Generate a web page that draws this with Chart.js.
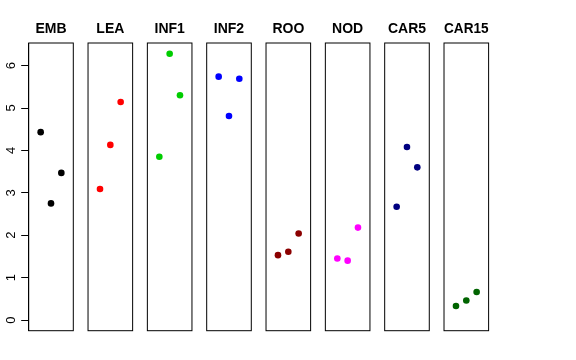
<!DOCTYPE html>
<html>
<head>
<meta charset="utf-8">
<script src="https://cdn.jsdelivr.net/npm/chart.js@4/dist/chart.umd.min.js"></script>
<style>
  html, body { margin: 0; padding: 0; background: #fff; }
  #wrap { position: relative; width: 576px; height: 360px; }
  #wrap canvas { position: absolute; left: 0; top: 0; }
</style>
</head>
<body>
<div id="wrap"></div>
<script>
// ---- data ----
const categories = ["EMB", "LEA", "INF1", "INF2", "ROO", "NOD", "CAR5", "CAR15"];
const xPositions = [1, 2, 3];
const EMB   = [4.43, 2.75, 3.47];
const LEA   = [3.09, 4.13, 5.14];
const INF1  = [3.85, 6.28, 5.30];
const INF2  = [5.74, 4.81, 5.69];
const ROO   = [1.53, 1.61, 2.04];
const NOD   = [1.45, 1.40, 2.18];
const CAR5  = [2.67, 4.08, 3.60];
const CAR15 = [0.33, 0.46, 0.66];
const seriesValues = [EMB, LEA, INF1, INF2, ROO, NOD, CAR5, CAR15];
const yTicks = [0, 1, 2, 3, 4, 5, 6];
const colors = ["#000000", "#FF0000", "#00CD00", "#0000FF", "#8B0000", "#FF00FF", "#000080", "#006400"];

// ---- layout ----
const W = 576, H = 360;
const panelLeft0 = 28.7, panelWidth = 44.6, panelPitch = 59.33;
const plotTop = 43, plotBottom = 330.7;
const xMin = -0.16, xMax = 4.16;
const yMin = -0.252, yMax = 6.533;

Chart.defaults.font.family = "'Liberation Sans', Arial, Helvetica, sans-serif";
Chart.defaults.color = "#000";

const boxPlugin = {
  id: 'box',
  afterDraw(chart) {
    const a = chart.chartArea, ctx = chart.ctx;
    ctx.save();
    ctx.strokeStyle = '#000';
    ctx.lineWidth = 1;
    ctx.strokeRect(a.left, a.top, a.right - a.left, a.bottom - a.top);
    ctx.restore();
  }
};

const wrap = document.getElementById('wrap');
categories.forEach((cat, i) => {
  const cv = document.createElement('canvas');
  cv.width = W; cv.height = H;
  cv.style.width = W + 'px'; cv.style.height = H + 'px';
  wrap.appendChild(cv);
  const left = panelLeft0 + i * panelPitch;
  const right = left + panelWidth;
  const first = i === 0;
  const yScale = {
    type: 'linear', min: yMin, max: yMax,
    display: first,
    position: 'left',
    afterBuildTicks: s => { s.ticks = yTicks.map(v => ({ value: v })); },
    grid: { display: true, drawOnChartArea: false, drawTicks: true, tickLength: 7.5, color: '#000', lineWidth: 1 },
    border: { display: true, color: '#000' },
    ticks: {
      minRotation: 90, maxRotation: 90,
      crossAlign: 'center',
      padding: 6,
      font: { size: 13 },
      color: '#000',
      callback: v => String(v)
    }
  };
  if (first) yScale.afterFit = s => { s.width = left; };
  new Chart(cv, {
    type: 'scatter',
    data: {
      datasets: [{
        data: xPositions.map((x, k) => ({ x: x, y: seriesValues[i][k] })),
        backgroundColor: colors[i],
        borderColor: colors[i],
        borderWidth: 0,
        pointRadius: 3.3,
        pointHoverRadius: 3.3
      }]
    },
    options: {
      responsive: false,
      animation: false,
      devicePixelRatio: 1,
      layout: { padding: { left: first ? 0 : left, right: W - right, top: 0, bottom: H - plotBottom } },
      plugins: {
        legend: { display: false },
        tooltip: { enabled: false },
        title: {
          display: true,
          text: cat,
          fullSize: false,
          font: { size: 14, weight: 'bold', lineHeight: 1.2 },
          color: '#000',
          padding: { top: 20.6, bottom: 5.6 }
        }
      },
      scales: {
        x: { type: 'linear', min: xMin, max: xMax, display: false },
        y: yScale
      }
    },
    plugins: [boxPlugin]
  });
});
</script>
</body>
</html>
